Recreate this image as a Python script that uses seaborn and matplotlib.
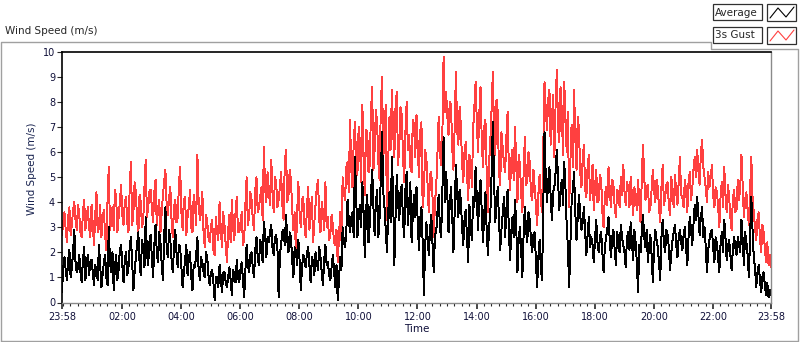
import pandas as pd
import numpy as np
import matplotlib
matplotlib.use('Agg')
import matplotlib.pyplot as plt
import matplotlib.dates as mdates
from matplotlib.patches import Rectangle
from matplotlib.lines import Line2D
import seaborn as sns

sns.set_style('white')
plt.rcParams['font.family'] = ['DejaVu Sans']

# samples read at 23:58 + 5 min * k (one row per hour), last value at 23:58 next day
gust_ms = [
    2.7, 3.6, 2.4, 3.8, 3.1, 4.0, 2.9, 3.5, 2.6, 4.1, 3.3, 3.0,
    3.9, 2.3, 4.4, 3.0, 2.6, 3.7, 2.1, 5.4, 3.2, 2.9, 4.2, 3.4,
    4.7, 3.1, 4.2, 2.8, 5.6, 3.6, 4.4, 2.7, 4.0, 3.3, 5.7, 3.8,
    4.5, 3.2, 4.9, 3.7, 2.8, 4.3, 5.3, 3.5, 4.6, 2.6, 4.1, 3.4,
    5.4, 2.9, 4.2, 3.4, 4.5, 2.8, 3.9, 5.9, 3.3, 4.4, 2.2, 3.2,
    2.4, 3.3, 1.9, 2.8, 4.0, 2.2, 3.1, 1.6, 3.5, 4.1, 2.5, 4.2,
    2.8, 3.6, 2.5, 5.0, 3.4, 4.1, 2.9, 5.0, 3.8, 4.6, 6.2, 4.0,
    4.5, 5.7, 3.6, 4.8, 4.1, 5.2, 3.3, 6.1, 4.3, 4.9, 2.9, 2.0,
    4.8, 3.0, 4.2, 2.6, 4.6, 3.5, 2.4, 3.9, 4.9, 2.8, 3.6, 4.8,
    3.4, 2.7, 3.1, 2.3, 1.6, 3.6, 5.0, 4.1, 5.6, 7.3, 4.6, 7.2,
    5.1, 6.4, 7.9, 4.3, 6.8, 5.5, 8.6, 6.1, 7.2, 4.9, 9.0, 6.6,
    3.3, 7.4, 8.5, 5.8, 8.4, 6.2, 7.5, 4.8, 8.0, 6.7, 5.2, 7.1,
    7.5, 5.0, 7.2, 4.4, 5.8, 3.6, 5.2, 2.6, 4.6, 7.4, 5.5, 9.8,
    8.4, 6.7, 7.9, 5.3, 9.2, 6.3, 7.1, 4.8, 6.4, 4.1, 5.7, 6.9,
    8.8, 6.0, 8.6, 5.4, 7.3, 3.6, 6.5, 9.2, 5.9, 7.6, 4.7, 6.2,
    5.2, 7.6, 4.5, 6.1, 7.0, 4.0, 5.5, 3.6, 6.6, 4.8, 5.6, 4.1,
    4.6, 3.1, 5.1, 3.6, 8.8, 6.9, 8.5, 7.2, 5.8, 9.3, 6.4, 7.7,
    8.8, 6.0, 3.8, 7.1, 8.5, 5.3, 6.9, 4.6, 6.3, 4.2, 5.9, 4.8,
    3.7, 5.3, 4.1, 4.9, 3.0, 4.6, 5.4, 3.8, 4.7, 3.4, 4.4, 5.0,
    5.5, 3.9, 4.6, 5.0, 3.5, 4.3, 4.9, 3.2, 6.3, 4.1, 4.7, 3.8,
    5.3, 4.0, 4.6, 3.2, 5.5, 4.2, 4.8, 3.5, 4.4, 5.1, 3.9, 5.8,
    4.2, 4.9, 3.6, 5.2, 4.5, 5.8, 6.1, 4.7, 6.5, 5.0, 4.0, 4.6,
    5.5, 3.8, 4.4, 3.0, 4.8, 5.4, 3.6, 4.2, 2.9, 4.5, 3.7, 4.1,
    5.9, 3.4, 4.4, 3.1, 5.8, 3.6, 2.5, 3.6, 2.0, 2.8, 1.6, 1.5,
    1.4,
]

# samples read halfway between the ones above (23:58 + 2.5 min + 5 min * k)
gust_mid = [
    3.2, 2.9, 3.4, 2.7, 3.7, 3.3, 3.9, 2.8, 3.6, 2.9, 3.8, 2.6,
    3.1, 3.5, 2.8, 3.9, 3.3, 2.7, 4.1, 2.9, 3.8, 4.5, 2.8, 4.0,
    3.5, 4.0, 3.2, 4.6, 3.1, 4.8, 3.3, 4.3, 3.0, 4.6, 3.4, 4.4,
    3.8, 4.4, 3.1, 4.1, 3.6, 4.8, 3.9, 4.2, 3.3, 3.8, 3.2, 4.7,
    3.6, 4.1, 2.7, 3.8, 3.0, 4.3, 3.1, 4.0, 3.6, 2.8, 3.5, 2.6,
    3.0, 2.1, 3.4, 2.5, 2.9, 3.6, 2.3, 2.9, 2.4, 3.0, 3.6, 2.8,
    3.2, 2.3, 3.9, 3.1, 4.4, 3.3, 4.5, 3.6, 4.2, 3.3, 4.6, 5.2,
    3.9, 4.4, 5.0, 3.8, 4.6, 3.9, 5.6, 4.0, 5.3, 3.7, 3.6, 3.5,
    3.6, 4.1, 3.1, 3.8, 2.9, 4.2, 3.2, 4.6, 3.3, 4.0, 2.9, 3.0,
    2.5, 3.5, 2.4, 2.9, 2.6, 2.5, 4.4, 5.4, 4.4, 5.3, 6.4, 5.5,
    7.0, 4.8, 5.9, 6.9, 5.2, 7.6, 5.3, 7.7, 5.6, 7.8, 5.8, 7.9,
    5.6, 6.1, 6.8, 7.9, 5.5, 7.8, 5.9, 6.8, 6.1, 5.4, 7.3, 5.8,
    6.2, 6.8, 3.8, 6.1, 4.7, 5.1, 4.2, 4.0, 5.9, 6.0, 6.7, 7.6,
    7.5, 8.0, 6.2, 7.0, 6.9, 7.8, 5.6, 6.0, 5.2, 5.9, 4.6, 7.8,
    7.2, 7.5, 6.5, 7.0, 5.2, 5.6, 7.7, 6.8, 8.1, 5.2, 6.8, 5.6,
    6.6, 5.4, 5.7, 4.9, 5.6, 5.9, 4.4, 5.1, 4.7, 6.0, 4.3, 5.3,
    3.9, 4.3, 4.1, 6.2, 7.7, 8.1, 6.3, 8.3, 7.9, 7.0, 8.6, 5.9,
    7.4, 7.6, 5.6, 5.4, 6.6, 7.4, 5.2, 5.7, 4.5, 5.4, 4.1, 5.5,
    4.6, 4.0, 5.1, 3.6, 4.2, 3.9, 4.5, 4.9, 3.8, 4.5, 3.8, 4.3,
    4.4, 4.8, 3.8, 4.3, 4.6, 3.7, 4.0, 4.9, 5.0, 4.6, 3.6, 4.5,
    4.5, 4.9, 3.8, 4.6, 3.9, 4.7, 3.9, 5.0, 3.8, 4.4, 4.8, 4.3,
    3.8, 4.5, 4.8, 4.1, 5.3, 5.0, 5.3, 5.9, 5.4, 4.6, 5.2, 5.0,
    4.3, 4.6, 3.9, 4.2, 3.8, 4.3, 4.7, 3.4, 4.1, 3.6, 4.9, 4.6,
    4.6, 4.1, 3.7, 4.5, 4.2, 3.0, 3.3, 2.6, 3.1, 2.2, 2.4, 1.9,
]

avg_ms = [
    0.4, 1.8, 0.9, 2.1, 1.4, 2.9, 1.2, 1.9, 0.8, 2.2, 1.5, 1.1,
    1.7, 0.7, 1.3, 2.3, 0.6, 1.6, 1.0, 3.0, 1.2, 0.5, 1.9, 1.3,
    2.3, 0.8, 2.0, 1.4, 2.6, 0.5, 1.8, 2.8, 1.1, 2.1, 3.4, 1.5,
    2.7, 1.0, 3.1, 1.6, 2.4, 0.9, 3.8, 1.8, 2.5, 1.2, 2.9, 1.4,
    2.2, 0.6, 1.7, 1.1, 2.0, 0.5, 1.4, 2.6, 0.9, 1.6, 1.0, 1.8,
    0.7, 1.3, 0.1, 1.0, 1.5, 0.4, 1.2, 0.6, 1.4, 0.3, 1.1, 1.7,
    0.8, 1.6, 0.2, 2.3, 1.2, 2.0, 1.0, 2.6, 1.5, 2.2, 3.2, 1.8,
    2.4, 3.1, 1.9, 2.7, 0.2, 2.3, 2.9, 3.5, 2.0, 2.6, 1.0, 2.1,
    2.5, 0.5, 1.9, 1.4, 2.2, 0.8, 1.6, 2.0, 1.3, 1.8, 0.7, 2.3,
    1.6, 0.9, 1.9, 0.6, 0.1, 1.8, 3.0, 2.2, 4.1, 2.8, 3.6, 5.8,
    2.6, 3.9, 4.8, 1.8, 4.3, 3.1, 5.3, 2.7, 4.5, 3.4, 6.8, 3.8,
    2.0, 4.4, 5.8, 1.5, 5.1, 3.3, 4.7, 2.6, 5.2, 3.9, 2.4, 4.3,
    4.6, 2.1, 3.8, 0.3, 3.2, 1.9, 3.5, 1.2, 2.8, 4.3, 2.6, 6.6,
    5.2, 2.8, 4.6, 2.0, 5.5, 3.4, 4.1, 2.3, 3.7, 1.6, 3.0, 4.2,
    5.4, 2.9, 4.9, 2.4, 4.4, 1.9, 3.6, 7.2, 3.2, 4.6, 2.1, 3.5,
    2.6, 4.5, 1.7, 3.4, 4.1, 1.2, 3.0, 1.0, 3.8, 2.4, 3.3, 2.0,
    2.8, 0.6, 2.5, 0.9, 6.8, 4.0, 5.4, 3.3, 4.6, 6.1, 3.7, 4.9,
    5.6, 3.1, 0.6, 4.0, 5.2, 2.5, 4.3, 2.9, 3.8, 1.9, 3.4, 2.6,
    1.6, 3.3, 2.0, 2.8, 1.2, 2.6, 3.4, 1.8, 2.9, 1.5, 2.5, 3.1,
    2.3, 1.4, 2.8, 3.2, 1.7, 2.4, 0.4, 2.0, 3.5, 2.2, 1.6, 2.7,
    0.8, 2.9, 2.2, 0.9, 3.3, 2.0, 2.7, 1.3, 2.5, 3.1, 1.8, 2.9,
    2.1, 3.0, 1.5, 3.4, 2.3, 3.9, 4.2, 2.7, 3.8, 3.0, 1.2, 2.5,
    2.9, 1.6, 2.4, 1.2, 2.8, 3.3, 1.7, 2.5, 1.3, 2.6, 1.9, 2.3,
    3.3, 1.5, 2.4, 1.0, 4.2, 1.8, 0.6, 1.5, 0.4, 1.2, 0.3, 0.2,
    0.3,
]

avg_mid = [
    1.4, 1.3, 1.7, 1.0, 2.0, 1.6, 1.4, 1.2, 1.7, 0.9, 1.9, 1.6,
    1.2, 1.5, 0.9, 1.5, 1.1, 1.9, 0.7, 1.6, 2.0, 1.4, 0.9, 2.1,
    1.5, 1.7, 1.1, 2.2, 1.6, 1.2, 2.3, 1.6, 2.5, 1.4, 2.0, 2.4,
    1.8, 2.3, 2.0, 2.8, 1.5, 2.6, 2.2, 2.9, 1.7, 2.2, 2.0, 2.3,
    1.4, 1.2, 2.3, 1.8, 1.0, 1.5, 1.9, 1.3, 1.8, 1.2, 2.0, 1.1,
    1.2, 0.8, 1.0, 0.6, 1.0, 1.2, 0.8, 1.0, 0.9, 1.3, 0.8, 1.0,
    1.3, 0.9, 1.3, 1.5, 1.9, 1.4, 2.1, 1.8, 2.5, 1.6, 2.7, 2.6,
    2.8, 2.2, 2.6, 2.2, 1.9, 2.8, 2.3, 2.5, 2.8, 1.7, 2.2, 1.5,
    1.7, 1.4, 1.7, 2.0, 1.5, 1.8, 1.1, 1.6, 2.2, 1.2, 1.7, 1.5,
    1.1, 1.4, 1.3, 1.5, 0.9, 1.3, 2.4, 2.9, 3.3, 3.4, 2.6, 4.2,
    3.4, 3.0, 3.6, 3.7, 2.4, 4.3, 3.8, 4.0, 2.6, 5.0, 4.4, 2.9,
    3.6, 3.2, 4.3, 3.5, 4.0, 4.4, 3.3, 4.5, 3.1, 4.8, 3.5, 3.4,
    3.2, 3.3, 2.4, 2.2, 2.6, 2.9, 2.3, 2.7, 3.6, 3.0, 4.4, 4.0,
    4.4, 3.9, 3.5, 3.6, 4.4, 4.5, 3.0, 3.3, 2.6, 3.9, 2.5, 3.8,
    4.1, 4.3, 3.7, 3.5, 2.9, 3.0, 5.1, 4.9, 3.9, 3.3, 2.9, 4.2,
    3.7, 3.0, 2.8, 2.6, 3.1, 2.5, 2.1, 2.7, 2.9, 3.6, 2.5, 2.7,
    1.7, 1.8, 1.4, 3.9, 5.0, 4.8, 4.2, 4.4, 5.2, 4.9, 4.4, 3.9,
    4.6, 2.2, 2.3, 4.5, 3.6, 3.4, 3.5, 3.2, 2.8, 2.7, 2.2, 2.3,
    2.5, 2.4, 2.6, 2.0, 2.2, 2.9, 2.5, 2.6, 2.1, 2.8, 2.0, 2.6,
    2.0, 2.6, 2.1, 2.4, 2.9, 1.6, 2.3, 2.8, 2.6, 2.9, 2.3, 1.9,
    2.2, 2.5, 1.6, 2.6, 2.4, 2.9, 2.2, 2.0, 2.8, 2.3, 2.6, 2.4,
    2.7, 2.2, 2.6, 2.9, 3.1, 3.3, 3.5, 3.4, 2.6, 2.2, 2.1, 2.8,
    2.2, 2.6, 1.8, 2.3, 2.0, 2.6, 2.2, 1.9, 2.1, 2.2, 2.6, 2.0,
    2.5, 2.8, 1.9, 2.6, 2.9, 1.4, 1.2, 0.9, 1.0, 0.7, 0.8, 0.5,
]

# merge the two sample sets in time order
gust = [v for pair in zip(gust_ms[:-1], gust_mid) for v in pair] + [gust_ms[-1]]
avg = [v for pair in zip(avg_ms[:-1], avg_mid) for v in pair] + [avg_ms[-1]]

times = pd.date_range('2000-01-01 23:58', periods=len(gust), freq='150s')
df = pd.DataFrame({'Time': times, 'Average': avg, '3s Gust': gust})

W, H = 800, 342
fig = plt.figure(figsize=(W / 100, H / 100), dpi=100)
ax = fig.add_axes([62 / W, 39.5 / H, 709 / W, 250.5 / H])

sns.lineplot(data=df, x='Time', y='3s Gust', color='#ff4040', lw=0.7, antialiased=False, ax=ax)
sns.lineplot(data=df, x='Time', y='Average', color='black', lw=0.7, antialiased=False, ax=ax)

ax.set_xlim(times[0], times[-1])
ax.set_ylim(0, 10)
ax.set_yticks(range(0, 11))

majors = [times[0]] + list(pd.date_range('2000-01-02 02:00', '2000-01-02 22:00', freq='2h')) + [times[-1]]
ax.set_xticks(majors)
ax.xaxis.set_major_formatter(mdates.DateFormatter('%H:%M'))
ax.xaxis.set_minor_locator(mdates.MinuteLocator(byminute=[0, 15, 30, 45]))

ax.tick_params(axis='x', which='major', direction='out', length=4.5, width=1.2,
               pad=2.5, labelsize=7, labelcolor='#10103a', bottom=True)
ax.tick_params(axis='x', which='minor', direction='out', length=2.2, width=0.8, bottom=True)
ax.tick_params(axis='y', direction='out', length=3.5, width=0.8, pad=1.5,
               labelsize=7, labelcolor='#10103a', left=True)

ax.set_xlabel('Time', fontsize=7.5, color='#10103a', labelpad=1)
ax.set_ylabel('Wind Speed (m/s)', fontsize=7.5, color='#1a2450', labelpad=4)
ax.yaxis.label.set_y(0.535)

for side in ['top', 'left']:
    ax.spines[side].set_color('black')
    ax.spines[side].set_linewidth(1.2)
for side in ['bottom', 'right']:
    ax.spines[side].set_color('#8a8a8a')
    ax.spines[side].set_linewidth(1.0)


def fx(x):
    return x / W


def fy(y):
    return 1 - y / H


# outer panel frame
frame = [(1, 341), (1, 42), (711, 42), (711, 49), (798, 49), (798, 341), (1, 341)]
fig.add_artist(Line2D([fx(p[0]) for p in frame], [fy(p[1]) for p in frame],
                      color='#a0a0a0', lw=1.0, transform=fig.transFigure))

fig.text(fx(5), fy(31), 'Wind Speed (m/s)', fontsize=7.5, va='center', ha='left')

# legend boxes
for label, color, top in [('Average', 'black', 4), ('3s Gust', '#ff4040', 27)]:
    fig.add_artist(Rectangle((fx(713), fy(top + 16)), 49 / W, 16 / H, transform=fig.transFigure,
                             facecolor='white', edgecolor='#303030', lw=0.9))
    fig.text(fx(715), fy(top + 8.5), label, fontsize=7.5, va='center', ha='left')
    fig.add_artist(Rectangle((fx(767), fy(top + 17)), 29 / W, 17 / H, transform=fig.transFigure,
                             facecolor='white', edgecolor='#303030', lw=0.9))
    zx = [770, 778, 786, 794]
    zy = [top + 14, top + 4, top + 13, top + 3]
    fig.add_artist(Line2D([fx(v) for v in zx], [fy(v) for v in zy], color=color, lw=0.8,
                          transform=fig.transFigure))

fig.savefig('out.png', dpi=100)
